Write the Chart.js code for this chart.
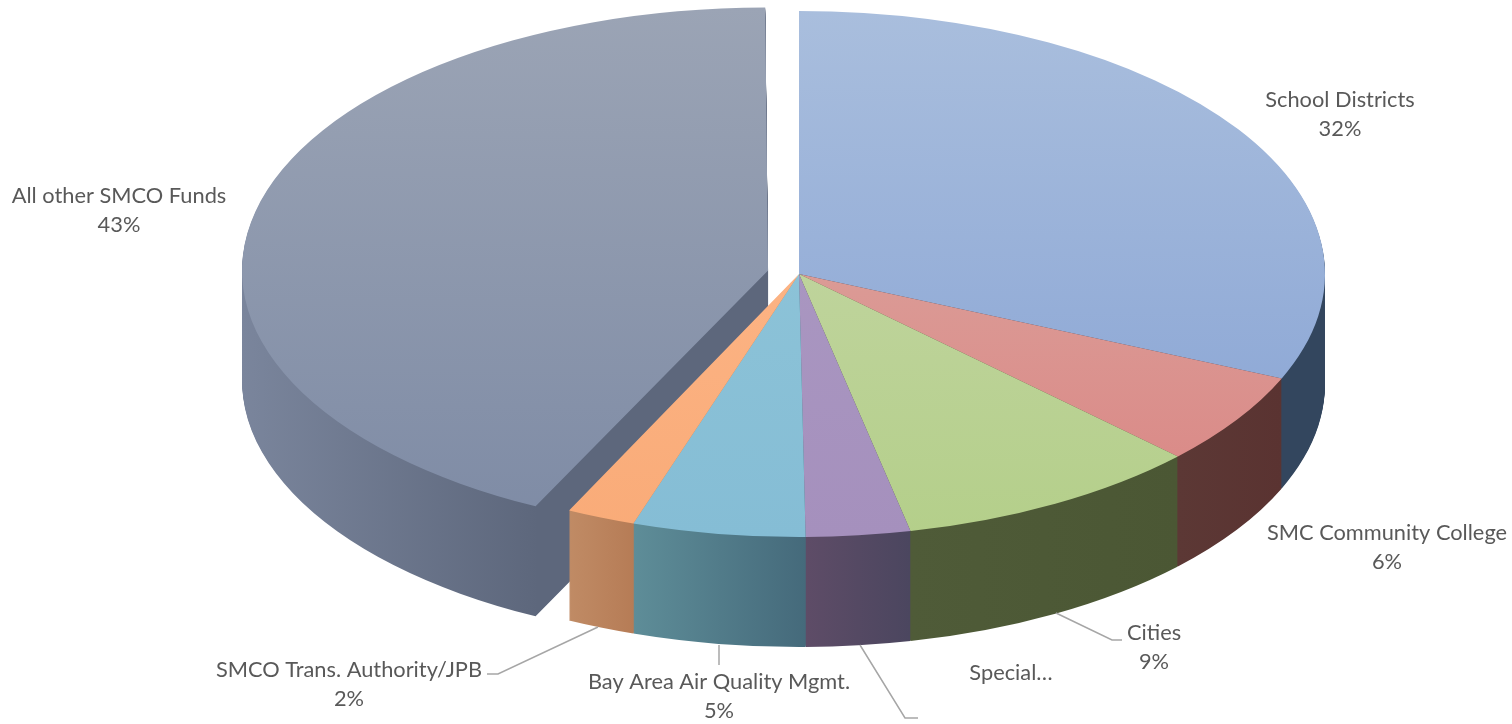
<!DOCTYPE html>
<html>
<head>
<meta charset="utf-8">
<title>Pie chart</title>
<script src="https://cdn.jsdelivr.net/npm/chart.js@4"></script>
<style>
    html, body { margin: 0; padding: 0; background: #fff; }
    canvas { display: block; }
</style>
</head>
<body>
<canvas id="pieChart" width="1512" height="724"></canvas>
<script>
// Chart data
const categories = ['School Districts', 'SMC Community College', 'Cities', 'Special…',
    'Bay Area Air Quality Mgmt.', 'SMCO Trans. Authority/JPB', 'All other SMCO Funds'];
const shares = [31.5, 5.7, 9.4, 3.2, 5.3, 2.1, 42.8];
const explodedSlice = [0, 0, 0, 0, 0, 0, 1];

// Slice colours: [top of disc, bottom of disc] and [left of wall, right of wall]
const topColors = [
    ['#a9bedd', '#86a2d4'], ['#dcb0a8', '#da8583'], ['#c9d8ad', '#b4cf8a'], ['#ad9cc4', '#a590bd'],
    ['#93c8da', '#85bdd5'], ['#ffbb8f', '#f9ab78'], ['#9ba4b5', '#7e8ba5']
];
const sideColors = [
    ['#2f4259', '#33465e'], ['#5c3835', '#5a3331'], ['#4f5b38', '#4b5734'], ['#5e4c67', '#4b465f'],
    ['#5e8d98', '#456a7b'], ['#c08b65', '#b67c56'], ['#7a859c', '#5d677c']
];

// Where the disc sits on the page
const PIE_RADIUS = 526;
const PIE_CENTER_X = 799;
const PIE_CENTER_Y = 274;
const PIE_TILT = 0.5;
const PIE_DEPTH = 110;
const PIE_EXPLODE = 127;   // arc.draw moves the slice by offset / 4

// Label blocks and their leader lines
const labelBlocks = [
    { x: 1340, y: 100, percent: true },
    { x: 1387, y: 533, percent: true },
    { x: 1154, y: 633, percent: true, leader: [[1056, 613], [1112, 640], [1122, 640]] },
    { x: 1011, y: 673, percent: false, leader: [[860, 645], [905, 718], [918, 718]] },
    { x: 719, y: 682, percent: true, leader: [[719, 645], [719, 665]] },
    { x: 349, y: 670, percent: true, leader: [[598, 627], [498, 674], [487, 674]] },
    { x: 119, y: 196, percent: true }
];

// Vertical shading of the disc, in the chart's own coordinates
function topGradient(context) {
    const { chart, dataIndex } = context;
    if (dataIndex === undefined || !chart.chartArea) return topColors[0][0];
    const midY = (chart.chartArea.top + chart.chartArea.bottom) / 2;
    const gradient = chart.ctx.createLinearGradient(0, midY - PIE_RADIUS, 0, midY + PIE_RADIUS);
    gradient.addColorStop(0, topColors[dataIndex][0]);
    gradient.addColorStop(1, topColors[dataIndex][1]);
    return gradient;
}

// Horizontal shading of a slice's wall
function sideGradient(ctx, arc, index) {
    const start = Math.cos(arc.startAngle);
    const end = Math.cos(arc.endAngle);
    const passesLeft = arc.startAngle < Math.PI && arc.endAngle > Math.PI;
    const left = arc.x + PIE_RADIUS * (passesLeft ? -1 : Math.min(start, end));
    // A slice wrapping the left edge shades only up to its front corner
    const right = arc.x + PIE_RADIUS * (passesLeft ? start : Math.max(start, end));
    const gradient = ctx.createLinearGradient(left, 0, right, 0);
    gradient.addColorStop(0, sideColors[index][0]);
    gradient.addColorStop(1, sideColors[index][1]);
    return gradient;
}

// Tilts the pie and extrudes the wall under it
const tiltedPie = {
    id: 'tiltedPie',
    afterDatasetUpdate(chart, args) {
        // Keep the exploded slice at the same radius as the rest
        args.meta.data.forEach((arc, i) => {
            if (!explodedSlice[i]) return;
            const fix = 1 - Math.sin(Math.min(Math.PI, arc.circumference));
            arc.outerRadius = PIE_RADIUS - (PIE_EXPLODE / 4) * fix;
        });
    },
    beforeDatasetDraw(chart, args) {
        const { ctx } = chart;
        const arcs = args.meta.data;
        const tilt = (shift) => {
            ctx.translate(PIE_CENTER_X, PIE_CENTER_Y + shift);
            ctx.scale(1, PIE_TILT);
            ctx.translate(-arcs[0].x, -arcs[0].y);
        };

        for (let depth = PIE_DEPTH; depth >= 1; depth--) {
            ctx.save();
            tilt(depth);
            arcs.forEach((arc, i) => {
                const original = arc.options;
                arc.options = { ...original, backgroundColor: sideGradient(ctx, arc, i) };
                arc.draw(ctx);
                arc.options = original;
            });
            ctx.restore();
        }

        ctx.save();
        tilt(0);
    },
    afterDatasetDraw(chart) {
        chart.ctx.restore();
    },
    afterDraw(chart) {
        const { ctx } = chart;
        ctx.save();
        ctx.font = '21.8px Lato';
        ctx.fillStyle = '#595959';
        ctx.textAlign = 'center';
        ctx.textBaseline = 'middle';
        ctx.strokeStyle = '#a6a6a6';
        ctx.lineWidth = 1.5;

        labelBlocks.forEach((block, i) => {
            ctx.fillText(categories[i], block.x, block.y);
            if (block.percent) {
                ctx.fillText(`${Math.round(shares[i])}%`, block.x, block.y + 29);
            }
            if (block.leader) {
                ctx.beginPath();
                block.leader.forEach(([x, y], n) => {
                    if (n === 0) ctx.moveTo(x, y);
                    else ctx.lineTo(x, y);
                });
                ctx.stroke();
            }
        });
        ctx.restore();
    }
};

new Chart(document.getElementById('pieChart').getContext('2d'), {
    type: 'pie',
    data: {
        labels: categories,
        datasets: [{
            data: shares,
            backgroundColor: topGradient,
            borderWidth: 0,
            offset: explodedSlice.map(v => v * PIE_EXPLODE),
            clip: false
        }]
    },
    options: {
        responsive: false,
        animation: false,
        events: [],
        radius: PIE_RADIUS,
        plugins: {
            legend: { display: false },
            tooltip: { enabled: false }
        }
    },
    plugins: [tiltedPie]
});
</script>
</body>
</html>
